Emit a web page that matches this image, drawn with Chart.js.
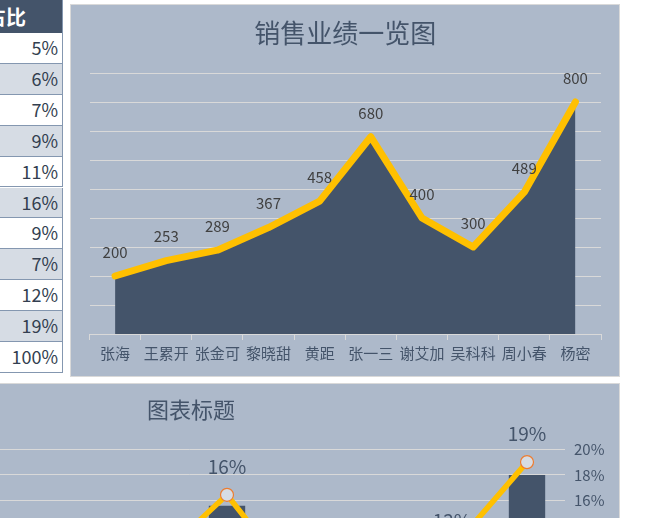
<!DOCTYPE html>
<html>
<head>
<meta charset="utf-8">
<script src="https://cdn.jsdelivr.net/npm/chart.js@4.4.1/dist/chart.umd.min.js"></script>
<style>
  html, body { margin: 0; padding: 0; background: #fff; }
  body { width: 665px; height: 518px; overflow: hidden; position: relative;
         font-family: "Noto Sans CJK SC", "Noto Sans", sans-serif; }
  .panel { position: absolute; background: #ADB9CA; box-sizing: border-box; border: 1px solid #D9D9D9; }
  canvas { position: absolute; }
  .cell { position: absolute; left: -50px; width: 113px; box-sizing: border-box;
          border-right: 1px solid #8497B0; border-bottom: 1px solid #8497B0;
          text-align: right; padding-right: 4px; font-size: 18px; color: #333F50; }
  .head { background: #44546A; color: #fff; font-weight: bold; font-size: 20px;
          text-align: center; padding-right: 0; border-bottom: none; }
</style>
</head>
<body>
<div id="table"></div>
<div class="panel" style="left:70px;top:4px;width:550px;height:373px;"></div>
<canvas id="salesChart" width="548" height="372" style="left:71px;top:4px;"></canvas>
<div class="panel" style="left:-238px;top:383px;width:858px;height:400px;"></div>
<canvas id="shareChart" width="856" height="380" style="left:-237px;top:383px;"></canvas>

<script>
// categories and values
const names = ["张海", "王累开", "张金可", "黎晓甜", "黄距", "张一三", "谢艾加", "吴科科", "周小春", "杨密"];
const sales = [200, 253, 289, 367, 458, 680, 400, 300, 489, 800];
const shareTable = ["5%", "6%", "7%", "9%", "11%", "16%", "9%", "7%", "12%", "19%", "100%"];
const shareLine = [5, 6, 7, 9, 11, 16.45, 9, 7, 12.25, 19]; // percent
const shareTicks = { min: 2, max: 20, step: 2 };

const NAVY = "#44546A";
const GOLD = "#FFC000";
const GRID = "#D9D9D9";
const FONT = '"Noto Sans CJK SC", "Noto Sans", sans-serif';

// left table (only the last column is on screen)
const table = document.getElementById("table");
const head = document.createElement("div");
head.className = "cell head";
head.style.top = "0px";
head.style.height = "33px";
head.style.lineHeight = "34px";
head.textContent = "占比";
table.appendChild(head);
const rowH = 30.9;
shareTable.forEach((txt, i) => {
  const c = document.createElement("div");
  c.className = "cell";
  c.style.top = (33 + i * rowH) + "px";
  c.style.height = rowH + "px";
  c.style.lineHeight = (rowH - 1) + "px";
  c.style.background = i % 2 === 1 ? "#D6DCE4" : "#FFFFFF";
  c.textContent = txt;
  table.appendChild(c);
});

// draws a value above each point of one dataset
const valueLabels = {
  id: "valueLabels",
  afterDatasetsDraw(chart, args, opts) {
    const meta = chart.getDatasetMeta(opts.dataset);
    const values = chart.data.datasets[opts.dataset].data;
    const ctx = chart.ctx;
    ctx.save();
    ctx.font = opts.size + "px " + FONT;
    ctx.fillStyle = opts.color;
    ctx.textAlign = "center";
    ctx.textBaseline = "middle";
    meta.data.forEach((pt, i) => {
      const text = opts.percent ? Math.round(values[i]) + "%" : String(values[i]);
      ctx.fillText(text, pt.x, pt.y - opts.offset);
    });
    ctx.restore();
  },
};

new Chart(document.getElementById("salesChart"), {
  type: "line",
  plugins: [valueLabels],
  data: {
    labels: names,
    datasets: [
      {
        data: sales,
        borderColor: GOLD,
        borderWidth: 7,
        borderJoinStyle: "round",
        borderCapStyle: "round",
        pointRadius: 0,
        fill: false,
        order: 0,
      },
      {
        data: sales,
        backgroundColor: NAVY,
        borderWidth: 0,
        pointRadius: 0,
        fill: "origin",
        order: 1,
      },
    ],
  },
  options: {
    responsive: false,
    animation: false,
    layout: { padding: { left: 18.5, right: 18, top: 0, bottom: 0 } },
    plugins: {
      legend: { display: false },
      tooltip: { enabled: false },
      title: {
        display: true,
        text: "销售业绩一览图",
        color: NAVY,
        font: { family: FONT, size: 26, weight: "normal", lineHeight: 1.2 },
        padding: { top: 14, bottom: 23.8 },
      },
      valueLabels: { dataset: 0, size: 15, color: "#404040", offset: 24, percent: false },
    },
    scales: {
      x: {
        offset: true,
        grid: { display: true, offset: true, drawOnChartArea: false, color: GRID, tickLength: 6 },
        border: { color: GRID },
        ticks: { color: NAVY, font: { family: FONT, size: 15 }, padding: 4, maxRotation: 0, autoSkip: false },
        afterFit(scale) { scale.height = 42; },
      },
      y: {
        min: 0,
        max: 900,
        ticks: { display: false, stepSize: 100 },
        grid: { color: GRID, drawTicks: false },
        border: { display: false },
        afterFit(scale) { scale.width = 0; },
      },
    },
  },
});

new Chart(document.getElementById("shareChart"), {
  type: "bar",
  plugins: [valueLabels],
  data: {
    labels: names,
    datasets: [
      {
        type: "line",
        data: shareLine,
        yAxisID: "y2",
        borderColor: GOLD,
        borderWidth: 5.5,
        pointRadius: 6.5,
        pointBackgroundColor: "#D6DCE4",
        pointBorderColor: "#ED7D31",
        pointBorderWidth: 1.2,
        order: 0,
      },
      {
        data: sales,
        yAxisID: "y",
        backgroundColor: NAVY,
        categoryPercentage: 1,
        barPercentage: 0.485,
        order: 1,
      },
    ],
  },
  options: {
    responsive: false,
    animation: false,
    layout: { padding: 0 },
    plugins: {
      legend: { display: false },
      tooltip: { enabled: false },
      title: {
        display: true,
        text: "图表标题",
        color: NAVY,
        font: { family: FONT, size: 22, weight: "normal", lineHeight: 1.2 },
        padding: { top: 13.8, bottom: 26.1 },
      },
      valueLabels: { dataset: 0, size: 19, color: NAVY, offset: 28, percent: true },
    },
    scales: {
      x: {
        grid: { display: false },
        border: { color: GRID },
        ticks: { color: NAVY, font: { family: FONT, size: 15 } },
        afterFit(scale) { scale.height = 83; },
      },
      y: {
        position: "left",
        min: 0,
        max: 900,
        ticks: { display: false },
        grid: { display: false },
        border: { display: false },
        afterFit(scale) { scale.width = 51.5; },
      },
      y2: {
        position: "right",
        min: shareTicks.min,
        max: shareTicks.max,
        ticks: {
          stepSize: shareTicks.step,
          color: NAVY,
          font: { family: FONT, size: 15 },
          padding: 9.5,
          callback: (v) => Math.round(v) + "%",
        },
        grid: { color: GRID, drawTicks: false },
        border: { display: false },
        afterFit(scale) { scale.width = 54.5; },
      },
    },
  },
});
</script>
</body>
</html>
